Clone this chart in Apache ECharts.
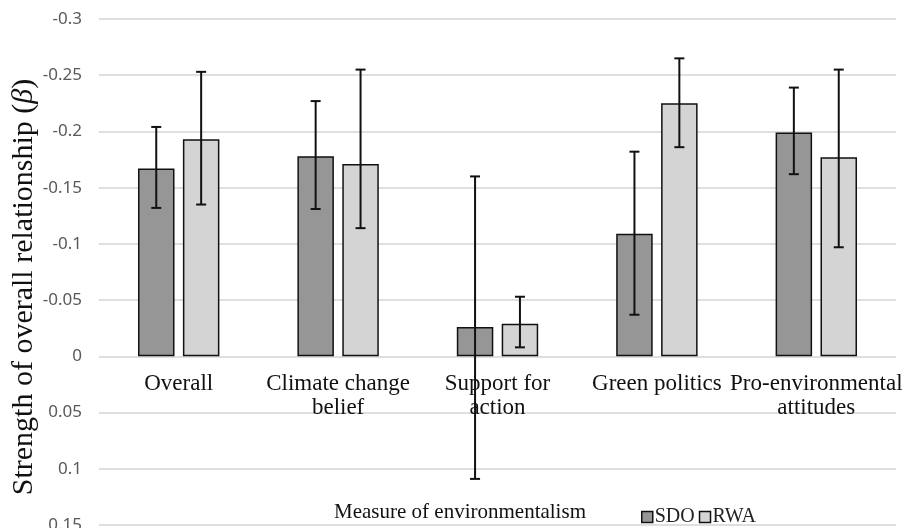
<!DOCTYPE html>
<html>
<head>
<meta charset="utf-8">
<script src="https://cdn.jsdelivr.net/npm/echarts@6/dist/echarts.min.js"></script>
<style>
  html, body { margin: 0; padding: 0; background: #fff; }
  #chart { width: 924px; height: 528px; }
</style>
</head>
<body>
<div id="chart"></div>
<script>
// Measures of environmentalism and standardised coefficients (β)
const categories = ['Overall', 'Climate change\nbelief', 'Support for\naction', 'Green politics', 'Pro-environmental\nattitudes'];
const seriesNames = ['SDO', 'RWA'];

const sdoBeta = [-0.167, -0.178, -0.026, -0.109, -0.199];
const sdoCiUpper = [-0.204, -0.227, -0.160, -0.182, -0.239];
const sdoCiLower = [-0.132, -0.131, 0.109, -0.037, -0.162];

const rwaBeta = [-0.193, -0.171, -0.029, -0.225, -0.177];
const rwaCiUpper = [-0.253, -0.255, -0.053, -0.265, -0.255];
const rwaCiLower = [-0.135, -0.114, -0.008, -0.186, -0.097];

const yTickLabels = ['-0.3', '-0.25', '-0.2', '-0.15', '-0.1', '-0.05', '0', '0.05', '0.1', '0.15'];

const SERIF = 'Liberation Serif, Times New Roman, serif';
const BAR_W = 0.229;   // bar width as share of a category
const BAR_GAP = 0.23;  // gap between the two bars as share of bar width

function errorBars(sign) {
  return function (params, api) {
    const i = api.value(0);
    const a = api.coord([i, api.value(1)]);
    const b = api.coord([i, api.value(2)]);
    const catW = api.size([1, 0])[0];
    const bw = catW * BAR_W;
    const x = a[0] + sign * (bw + bw * BAR_GAP) / 2;
    const cap = 5;
    const style = { stroke: '#111', lineWidth: 2 };
    return {
      type: 'group',
      children: [
        { type: 'line', shape: { x1: x, y1: a[1], x2: x, y2: b[1] }, style },
        { type: 'line', shape: { x1: x - cap, y1: a[1], x2: x + cap, y2: a[1] }, style },
        { type: 'line', shape: { x1: x - cap, y1: b[1], x2: x + cap, y2: b[1] }, style }
      ]
    };
  };
}

// Category names sit just under the zero line
function categoryLabel(params, api) {
  const i = api.value(0);
  const p = api.coord([i, 0]);
  return {
    type: 'text',
    x: p[0],
    y: p[1] + 16,
    style: {
      text: categories[i],
      fontFamily: SERIF,
      fontSize: 23,
      lineHeight: 24,
      fill: '#111',
      align: 'center',
      verticalAlign: 'top'
    }
  };
}

const chart = echarts.init(document.getElementById('chart'));
chart.setOption({
  animation: false,
  backgroundColor: '#fff',
  grid: { left: 99, right: 28, top: 19, bottom: 3, containLabel: false, outerBoundsMode: 'none' },
  legend: {
    data: seriesNames,
    left: 636,
    top: 502,
    itemWidth: 11,
    itemHeight: 11,
    itemGap: 4,
    icon: 'rect',
    itemStyle: { borderColor: '#111', borderWidth: 1.5 },
    textStyle: { fontFamily: SERIF, fontSize: 20, color: '#222', padding: [0, 0, 0, -3] }
  },
  xAxis: {
    type: 'category',
    data: categories,
    axisLine: { show: false },
    axisTick: { show: false },
    axisLabel: { show: false }
  },
  yAxis: {
    type: 'value',
    inverse: true,
    min: -0.3,
    max: 0.15,
    interval: 0.05,
    axisLine: { show: false },
    axisTick: { show: false },
    splitLine: { lineStyle: { color: '#d4d4d4', width: 1.5 } },
    axisLabel: {
      margin: 17,
      fontFamily: 'Noto Sans, sans-serif',
      fontSize: 17,
      color: '#595959',
      formatter: (v, idx) => yTickLabels[idx]
    }
  },
  graphic: [
    {
      type: 'text',
      x: 24,
      y: 287,
      rotation: Math.PI / 2,
      style: {
        text: 'Strength of overall relationship ({i|β})',
        rich: { i: { fontStyle: 'italic', fontFamily: SERIF, fontSize: 30, fill: '#111' } },
        fontFamily: SERIF,
        fontSize: 30,
        fill: '#111',
        align: 'center',
        verticalAlign: 'middle'
      }
    },
    {
      type: 'text',
      x: 460,
      y: 512,
      style: {
        text: 'Measure of environmentalism',
        fontFamily: SERIF,
        fontSize: 21,
        fill: '#111',
        align: 'center',
        verticalAlign: 'middle'
      }
    }
  ],
  series: [
    {
      name: 'categoryNames',
      type: 'custom',
      renderItem: categoryLabel,
      encode: { x: 0, y: 1 },
      data: categories.map((c, i) => [i, 0]),
      silent: true,
      z: 1
    },
    {
      name: 'SDO',
      type: 'bar',
      data: sdoBeta,
      barWidth: (BAR_W * 100) + '%',
      barGap: (BAR_GAP * 100) + '%',
      itemStyle: { color: '#969696', borderColor: '#111', borderWidth: 1.5 }
    },
    {
      name: 'RWA',
      type: 'bar',
      data: rwaBeta,
      barWidth: (BAR_W * 100) + '%',
      barGap: (BAR_GAP * 100) + '%',
      itemStyle: { color: '#d4d4d4', borderColor: '#111', borderWidth: 1.5 }
    },
    {
      name: 'SDO CI',
      type: 'custom',
      renderItem: errorBars(-1),
      encode: { x: 0, y: [1, 2] },
      data: categories.map((c, i) => [i, sdoCiUpper[i], sdoCiLower[i]]),
      z: 5
    },
    {
      name: 'RWA CI',
      type: 'custom',
      renderItem: errorBars(1),
      encode: { x: 0, y: [1, 2] },
      data: categories.map((c, i) => [i, rwaCiUpper[i], rwaCiLower[i]]),
      z: 5
    }
  ]
});
</script>
</body>
</html>
